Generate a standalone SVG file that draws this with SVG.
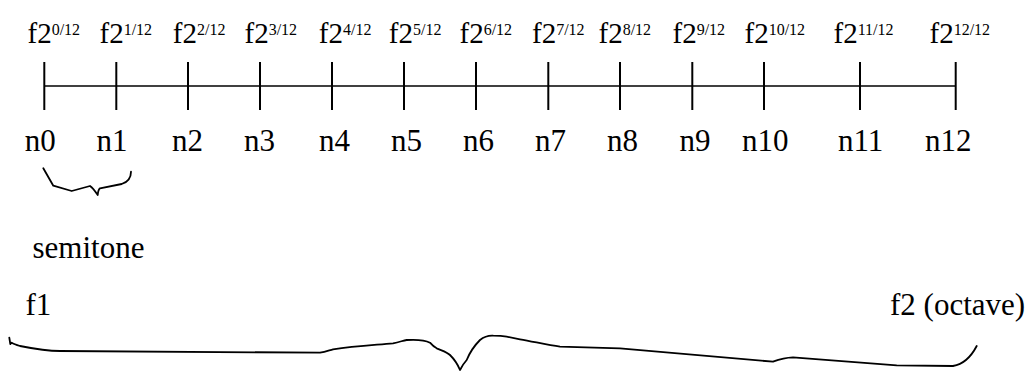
<svg xmlns="http://www.w3.org/2000/svg" width="1032" height="371" viewBox="0 0 1032 371">
<style>
.t{font-family:"Liberation Serif","Times New Roman",serif;font-size:31px;fill:#000}
.h{font-family:"Liberation Serif","Times New Roman",serif;font-size:29px;fill:#000}
.sup{font-size:16px}
.ln{stroke:#000;fill:none;stroke-linecap:butt}
.br{stroke:#000;fill:none;stroke-width:1.8;stroke-linejoin:round;stroke-linecap:round}
</style>
<rect width="1032" height="371" fill="#fff"/>
<g id="connectors">
<line class="ln" x1="44" y1="86" x2="956" y2="86" stroke-width="1.6"/>
<g stroke-width="2">
<line class="ln" x1="44.3" y1="62" x2="44.3" y2="110"/>
<line class="ln" x1="116.3" y1="62" x2="116.3" y2="110"/>
<line class="ln" x1="188" y1="62" x2="188" y2="110"/>
<line class="ln" x1="260" y1="62" x2="260" y2="110"/>
<line class="ln" x1="332" y1="62" x2="332" y2="110"/>
<line class="ln" x1="404" y1="62" x2="404" y2="110"/>
<line class="ln" x1="476" y1="62" x2="476" y2="110"/>
<line class="ln" x1="548.3" y1="62" x2="548.3" y2="110"/>
<line class="ln" x1="620" y1="62" x2="620" y2="110"/>
<line class="ln" x1="692.3" y1="62" x2="692.3" y2="110"/>
<line class="ln" x1="764" y1="62" x2="764" y2="110"/>
<line class="ln" x1="860" y1="62" x2="860" y2="110"/>
<line class="ln" x1="955.7" y1="62" x2="955.7" y2="110"/>
</g>
<path id="brace-semitone" class="br" d="M43.3,168.3 L53.3,185.7 L71.7,191 L90,186 C93,188 95,191 97.7,195 C98,192 99,189 100,188.3 L121.7,184 C128,182 131,178 131,171.7"/>
<path id="brace-octave" class="br" d="M9.3,337.7 L10.3,344 L11.7,342.7 C14,344 17,345 20,346 C35,349 45,351 60,351 L320,352.7 C326,351.5 330,350 333,349.3 C355,346 375,345 393,343.3 C400,342 403,340.5 406.7,340 C415,339.5 425,340 430,342.7 C432,345 434,347 436.7,348.3 C443,351 447,352 450,355 C455,360 458,365 460,370 C462,366 464,363 466.7,360 C470,352 475,345 480,340 C485,336 490,335.5 493.3,335.7 C498,335.8 502,336 506.7,336.7 L520,339.3 C535,342 548,345 560,346.7 L620,348.3 L773,361.7 C780,359 786,357.5 793,357.3 L896.7,365.3 L953,366 C965,364 972,355 976.7,346"/>
</g>
<g id="top-labels">
<text id="f0" class="h" x="27.5" y="42.7">f2<tspan class="sup" dy="-8">0/12</tspan></text>
<text id="f1" class="h" x="99.5" y="42.7">f2<tspan class="sup" dy="-8">1/12</tspan></text>
<text id="f2" class="h" x="172.8" y="42.7">f2<tspan class="sup" dy="-8">2/12</tspan></text>
<text id="f3" class="h" x="244.5" y="42.7">f2<tspan class="sup" dy="-8">3/12</tspan></text>
<text id="f4" class="h" x="318.8" y="42.7">f2<tspan class="sup" dy="-8">4/12</tspan></text>
<text id="f5" class="h" x="388.8" y="42.7">f2<tspan class="sup" dy="-8">5/12</tspan></text>
<text id="f6" class="h" x="459.5" y="42.7">f2<tspan class="sup" dy="-8">6/12</tspan></text>
<text id="f7" class="h" x="532" y="42.7">f2<tspan class="sup" dy="-8">7/12</tspan></text>
<text id="f8" class="h" x="598.5" y="42.7">f2<tspan class="sup" dy="-8">8/12</tspan></text>
<text id="f9" class="h" x="672.5" y="42.7">f2<tspan class="sup" dy="-8">9/12</tspan></text>
<text id="f10" class="h" x="744.5" y="42.7">f2<tspan class="sup" dy="-8">10/12</tspan></text>
<text id="f11" class="h" x="833.5" y="42.7">f2<tspan class="sup" dy="-8">11/12</tspan></text>
<text id="f12" class="h" x="929.5" y="42.7">f2<tspan class="sup" dy="-8">12/12</tspan></text>
</g>
<g id="note-labels">
<text id="n0" class="t" x="24.7" y="151">n0</text>
<text id="n1" class="t" x="96.5" y="151">n1</text>
<text id="n2" class="t" x="172" y="151">n2</text>
<text id="n3" class="t" x="244" y="151">n3</text>
<text id="n4" class="t" x="319" y="151">n4</text>
<text id="n5" class="t" x="391" y="151">n5</text>
<text id="n6" class="t" x="463" y="151">n6</text>
<text id="n7" class="t" x="535" y="151">n7</text>
<text id="n8" class="t" x="607" y="151">n8</text>
<text id="n9" class="t" x="679.5" y="151">n9</text>
<text id="n10" class="t" x="742" y="151">n10</text>
<text id="n11" class="t" x="838" y="151">n11</text>
<text id="n12" class="t" x="925" y="151">n12</text>
</g>
<text id="semitone-label" class="t" x="32.5" y="258">semitone</text>
<text id="f1-label" class="t" x="25.5" y="314.5">f1</text>
<text id="octave-label" class="t" x="890" y="314.5">f2 (octave)</text>
</svg>
